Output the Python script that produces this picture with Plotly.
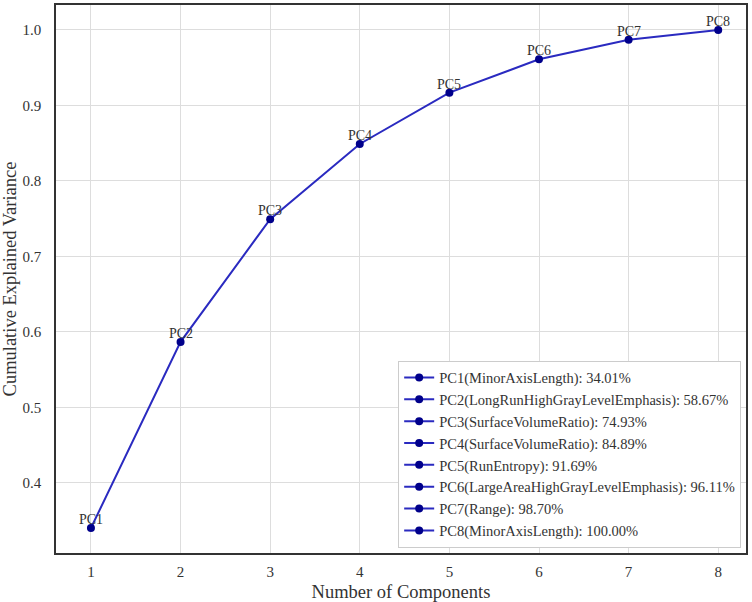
import plotly.graph_objects as go

components = [1, 2, 3, 4, 5, 6, 7, 8]
cum_var = [0.3401, 0.5867, 0.7493, 0.8489, 0.9169, 0.9611, 0.9870, 1.0000]
point_labels = ["PC1", "PC2", "PC3", "PC4", "PC5", "PC6", "PC7", "PC8"]
legend_labels = [
    "PC1(MinorAxisLength): 34.01%",
    "PC2(LongRunHighGrayLevelEmphasis): 58.67%",
    "PC3(SurfaceVolumeRatio): 74.93%",
    "PC4(SurfaceVolumeRatio): 84.89%",
    "PC5(RunEntropy): 91.69%",
    "PC6(LargeAreaHighGrayLevelEmphasis): 96.11%",
    "PC7(Range): 98.70%",
    "PC8(MinorAxisLength): 100.00%",
]
x_ticks = [1, 2, 3, 4, 5, 6, 7, 8]
y_ticks = [0.4, 0.5, 0.6, 0.7, 0.8, 0.9, 1.0]

LINE = "#2a2ac0"
MARK = "#00008b"
FONT = "Liberation Serif"

fig = go.Figure()
fig.add_trace(go.Scatter(
    x=components, y=cum_var, mode="lines+markers",
    line=dict(color=LINE, width=2),
    marker=dict(color=MARK, size=8),
    showlegend=False, cliponaxis=False,
))
for xv, yv, lab in zip(components, cum_var, point_labels):
    fig.add_annotation(
        x=xv, y=yv, text=lab, showarrow=False, yanchor="bottom", yshift=-1,
        font=dict(family=FONT, size=14, color="#333"),
    )
for lab in legend_labels:
    fig.add_trace(go.Scatter(
        x=[None], y=[None], mode="lines+markers", name=lab,
        line=dict(color=LINE, width=2), marker=dict(color=MARK, size=8),
    ))

fig.update_layout(
    width=752, height=602,
    margin=dict(l=56, r=6, t=5, b=49),
    paper_bgcolor="white", plot_bgcolor="white",
    font=dict(family=FONT, size=15, color="#333"),
    legend=dict(
        x=0.993, y=0.01, xanchor="right", yanchor="bottom",
        bgcolor="white", bordercolor="#cccccc", borderwidth=1,
        font=dict(family=FONT, size=14.5, color="#333"),
        tracegroupgap=0, itemwidth=30,
    ),
)
fig.update_xaxes(
    range=[0.61, 8.31], tickvals=x_ticks, ticktext=[str(v) for v in x_ticks],
    showgrid=True, gridcolor="#dddddd", gridwidth=1,
    showline=True, linecolor="#333", linewidth=1.5, mirror=True,
    zeroline=False, ticks="", ticklabelstandoff=4, automargin=False,
    title=dict(text="Number of Components", font=dict(size=18.5), standoff=9),
)
fig.update_yaxes(
    range=[0.307, 1.033], tickvals=y_ticks, ticktext=[f"{v:.1f}" for v in y_ticks],
    showgrid=True, gridcolor="#dddddd", gridwidth=1,
    showline=True, linecolor="#333", linewidth=1.5, mirror=True,
    zeroline=False, ticks="", ticklabelstandoff=10, automargin=False,
    title=dict(text="Cumulative Explained Variance", font=dict(size=18.5), standoff=4),
)

fig.write_html("out.html")
